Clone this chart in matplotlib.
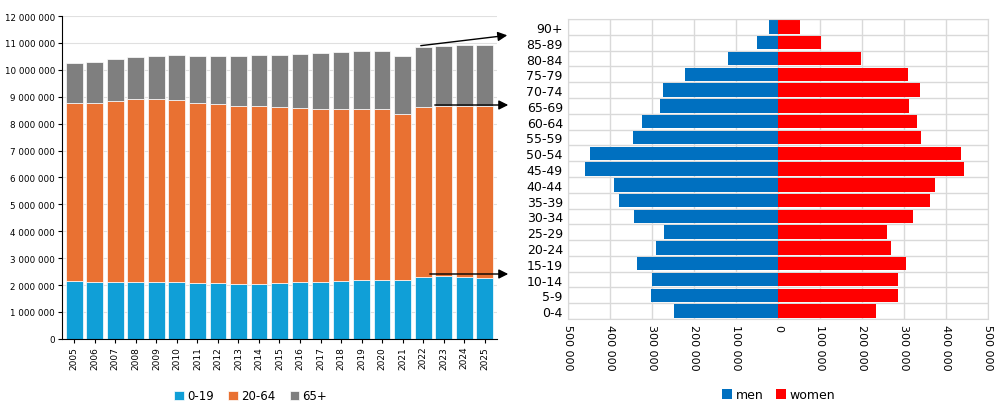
import matplotlib
matplotlib.use("Agg")
import matplotlib.pyplot as plt
import numpy as np

years = [str(y) for y in range(2005, 2026)]
young = [2.15, 2.12, 2.12, 2.12, 2.10, 2.10, 2.08, 2.07, 2.05, 2.04, 2.06,
         2.10, 2.12, 2.14, 2.18, 2.20, 2.18, 2.30, 2.32, 2.30, 2.28]
upto64 = [8.78, 8.78, 8.86, 8.91, 8.91, 8.88, 8.78, 8.73, 8.66, 8.65, 8.61,
          8.59, 8.56, 8.55, 8.56, 8.55, 8.35, 8.62, 8.65, 8.66, 8.66]
total = [10.25, 10.29, 10.39, 10.47, 10.50, 10.54, 10.50, 10.52, 10.52, 10.54, 10.56,
         10.59, 10.62, 10.65, 10.70, 10.70, 10.52, 10.84, 10.89, 10.92, 10.92]

ages = ["0-4", "5-9", "10-14", "15-19", "20-24", "25-29", "30-34", "35-39", "40-44",
        "45-49", "50-54", "55-59", "60-64", "65-69", "70-74", "75-79", "80-84", "85-89", "90+"]
men = [246, 302, 299, 334, 289, 270, 342, 379, 390, 460, 448, 344, 323, 281, 274, 221, 119, 50, 20]
women = [233, 287, 286, 306, 270, 259, 321, 361, 375, 443, 437, 341, 330, 313, 339, 310, 199, 103, 52]

def spaced(v):
    return f"{int(round(abs(v))):,}".replace(",", " ")

fig = plt.figure(figsize=(10.03, 4.10), dpi=100)

# left: stacked population by age group
ax = fig.add_axes([0.0618, 0.171, 0.4337, 0.7875])
x = np.arange(len(years))
y0 = np.array(young) * 1e6
y1 = np.array(upto64) * 1e6 - y0
y2 = np.array(total) * 1e6 - np.array(upto64) * 1e6
w = 0.82
ax.bar(x, y0, w, color="#109fd7", label="0-19", edgecolor="white", lw=0.5)
ax.bar(x, y1, w, bottom=y0, color="#e97132", label="20-64", edgecolor="white", lw=0.5)
ax.bar(x, y2, w, bottom=y0 + y1, color="#7f7f7f", label="65+", edgecolor="white", lw=0.5)
ax.set_ylim(0, 12e6)
ax.set_xlim(-0.6, len(years) - 0.4)
ax.set_yticks(np.arange(0, 12.1e6, 1e6))
ax.set_yticklabels([spaced(v) for v in np.arange(0, 12.1e6, 1e6)], fontsize=6.3)
ax.set_xticks(x)
ax.set_xticklabels(years, rotation=90, fontsize=6.5)
ax.grid(axis="y", color="#e0e0e0", lw=0.8)
ax.set_axisbelow(True)
for s in ["top", "right"]:
    ax.spines[s].set_visible(False)
ax.tick_params(length=3, pad=2)
ax.legend(loc="center", bbox_to_anchor=(0.25, 0.032), bbox_transform=fig.transFigure,
          ncol=3, frameon=False, fontsize=8.5, handlelength=0.8, handleheight=0.8,
          handletextpad=0.3, columnspacing=1.2)

# right: population pyramid
ax2 = fig.add_axes([0.566, 0.2195, 0.419, 0.7315])
yy = np.arange(len(ages))
ax2.barh(yy, -np.array(men) * 1e3, 0.85, color="#0070c0", label="men")
ax2.barh(yy, np.array(women) * 1e3, 0.85, color="#ff0000", label="women")
ax2.set_xlim(-5e5, 5e5)
ax2.set_ylim(-0.5, len(ages) - 0.5)
ax2.set_yticks(yy)
ax2.set_yticklabels(ages, fontsize=9)
xt = np.arange(-5e5, 5.1e5, 1e5)
ax2.set_xticks(xt)
ax2.set_xticklabels([spaced(v) for v in xt], rotation=-90, fontsize=8)
ax2.set_yticks(np.arange(-0.5, len(ages), 1), minor=True)
ax2.grid(which="minor", axis="y", color="#d9d9d9", lw=1)
ax2.grid(which="major", axis="x", color="#d9d9d9", lw=1)
ax2.set_axisbelow(True)
for s in ax2.spines.values():
    s.set_color("#d9d9d9")
ax2.tick_params(length=0, which="both")
ax2.legend(loc="center", bbox_to_anchor=(0.776, 0.035), bbox_transform=fig.transFigure,
           ncol=2, frameon=False, fontsize=9, handlelength=0.8, handleheight=0.8,
           handletextpad=0.3, columnspacing=1.0)

# arrows linking the 2022 bar to the pyramid
for (x0, ya), (x1, yb) in [((418, 47), (510, 36)), ((432, 106), (511, 106)), ((427, 275), (511, 275))]:
    fig.add_artist(matplotlib.patches.FancyArrowPatch(
        (x0, 410 - ya), (x1, 410 - yb), transform=None, arrowstyle="-|>",
        mutation_scale=14, color="black", lw=1))

fig.savefig("out.png", dpi=100)
